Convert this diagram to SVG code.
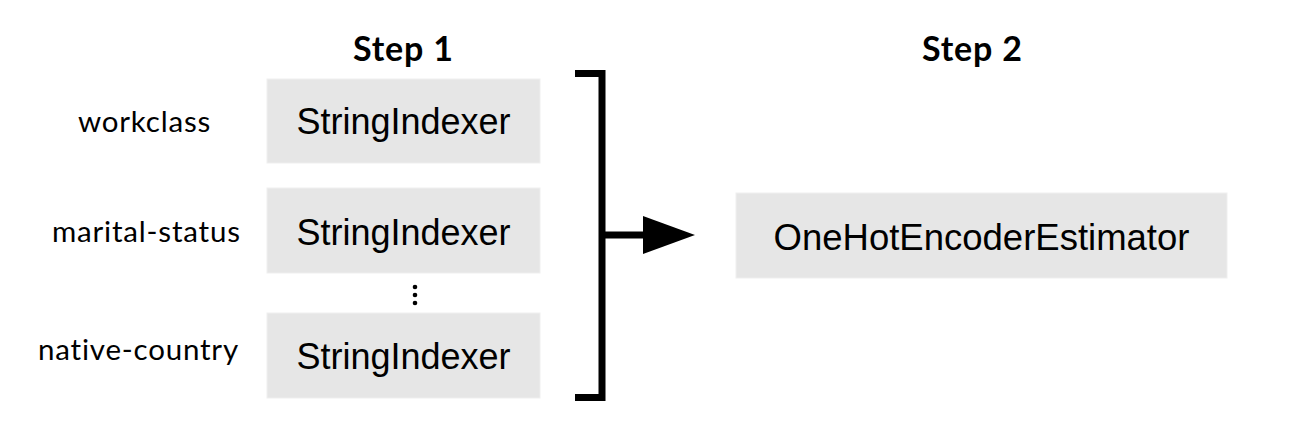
<svg xmlns="http://www.w3.org/2000/svg" width="1308" height="438" viewBox="0 0 1308 438">
<style>
.box{fill:#e6e6e6;stroke:#efefef;stroke-width:1}
.bt{font-family:"Liberation Sans",Arial,sans-serif;font-size:36px;fill:#000;text-anchor:middle}
.lbl{font-family:Lato,"Open Sans",sans-serif;font-size:29.5px;letter-spacing:0.8px;font-variant-ligatures:none;fill:#000}
.step{font-family:Lato,"Open Sans",sans-serif;font-size:34px;letter-spacing:0.8px;font-weight:bold;fill:#000}
.br{fill:none;stroke:#000;stroke-width:7}
</style>
<defs>
<marker id="ah" markerUnits="userSpaceOnUse" markerWidth="52" markerHeight="38" refX="2" refY="19" orient="auto">
<path d="M0,0 L52,19 L0,38 Z" fill="#000"/>
</marker>
</defs>
<g id="titles">
<text class="step" x="353" y="61">Step 1</text>
<text class="step" x="922" y="61">Step 2</text>
</g>
<g id="labels">
<text class="lbl" x="78" y="132">workclass</text>
<text class="lbl" x="52" y="242">marital-status</text>
<text class="lbl" x="38" y="360">native-country</text>
</g>
<g id="node-si1">
<rect class="box" x="267" y="79" width="273" height="84"/>
<text class="bt" x="403.5" y="134">StringIndexer</text>
</g>
<g id="node-si2">
<rect class="box" x="267" y="188" width="273" height="85"/>
<text class="bt" x="403.5" y="245">StringIndexer</text>
</g>
<g id="ellipsis">
<circle cx="415" cy="287" r="2.3"/>
<circle cx="415" cy="295" r="2.3"/>
<circle cx="415" cy="303" r="2.3"/>
</g>
<g id="node-si3">
<rect class="box" x="267" y="313" width="273" height="85"/>
<text class="bt" x="403.5" y="369">StringIndexer</text>
</g>
<g id="node-ohe">
<rect class="box" x="736" y="193" width="491" height="85"/>
<text class="bt" x="981.5" y="250" style="font-size:36.5px">OneHotEncoderEstimator</text>
</g>
<g id="connectors">
<path class="br" d="M575,73.5 H602 V397.5 H575"/>
<line x1="602" y1="235" x2="645" y2="235" stroke="#000" stroke-width="7" marker-end="url(#ah)"/>
</g>
</svg>
